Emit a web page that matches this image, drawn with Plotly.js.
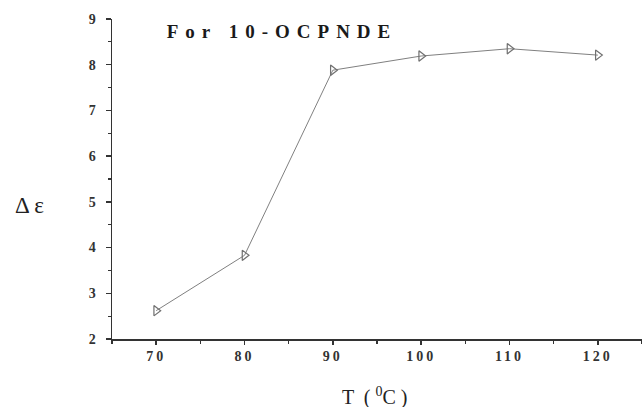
<!DOCTYPE html>
<html>
<head>
<meta charset="utf-8">
<script src="https://cdn.plot.ly/plotly-3.0.1.min.js"></script>
<style>
  html, body { margin: 0; padding: 0; background: #fff; }
  #chart { width: 642px; height: 407px; }
  .main-svg text { font-family: "Liberation Serif", "Times New Roman", serif !important; }
  .xtick text, .ytick text { letter-spacing: 3px; font-weight: bold !important; }
  .gtitle { letter-spacing: 7px; }
</style>
</head>
<body>
<div id="chart"></div>
<script>
// Dielectric anisotropy versus temperature
const temperature = [70, 80, 90, 100, 110, 120];
const deltaEps = [2.62, 3.83, 7.88, 8.19, 8.35, 8.21];
const xTickVals = [70, 80, 90, 100, 110, 120];
const yTickVals = [2, 3, 4, 5, 6, 7, 8, 9];

const serif = 'Liberation Serif';

const trace = {
  x: temperature,
  y: deltaEps,
  type: 'scatter',
  mode: 'lines+markers',
  line: { color: '#808080', width: 1 },
  marker: { symbol: 'triangle-right-open', size: 9, color: '#707070', line: { width: 1.2 } },
  showlegend: false
};

const layout = {
  width: 642,
  height: 407,
  margin: { l: 112, r: 0, t: 19, b: 68 },
  paper_bgcolor: '#fff',
  plot_bgcolor: '#fff',
  font: { family: serif },
  title: {
    text: '<b>For 10-OCPNDE</b>',
    font: { family: serif, size: 19, color: '#1a1a1a' },
    x: 282 / 642, xanchor: 'center',
    y: 1 - 31 / 407, yanchor: 'middle'
  },
  xaxis: {
    range: [65, 125],
    tickvals: xTickVals,
    ticks: 'outside', ticklen: 4, tickwidth: 1.5, tickcolor: '#333',
    minor: { dtick: 5, tick0: 65, ticks: 'outside', ticklen: 3, tickwidth: 1.2, tickcolor: '#333' },
    showline: true, linecolor: '#333', linewidth: 1.5,
    showgrid: false, zeroline: false,
    tickfont: { family: serif, size: 14, color: '#333', weight: 'bold' }
  },
  yaxis: {
    range: [2, 9],
    tickvals: yTickVals,
    ticks: 'outside', ticklen: 5, tickwidth: 1.5, tickcolor: '#333',
    minor: { dtick: 0.5, tick0: 2, ticks: 'outside', ticklen: 3, tickwidth: 1.2, tickcolor: '#333' },
    showline: true, linecolor: '#333', linewidth: 1.5,
    showgrid: false, zeroline: false,
    tickfont: { family: serif, size: 14, color: '#333', weight: 'bold' },
    ticklabelstandoff: 4
  },
  annotations: [
    {
      text: 'Δ ε',
      xref: 'paper', yref: 'paper',
      x: (29 - 112) / 530, y: (339 - 205) / 320,
      xanchor: 'center', yanchor: 'middle',
      showarrow: false,
      font: { family: serif, size: 23, color: '#222' }
    },
    {
      text: 'T  ( <sup>0</sup>C )',
      xref: 'paper', yref: 'paper',
      x: (375 - 112) / 530, y: -(396 - 339) / 320,
      xanchor: 'center', yanchor: 'middle',
      showarrow: false,
      font: { family: serif, size: 20, color: '#222' }
    }
  ]
};

Plotly.newPlot('chart', [trace], layout, { displayModeBar: false, staticPlot: true });
</script>
</body>
</html>
